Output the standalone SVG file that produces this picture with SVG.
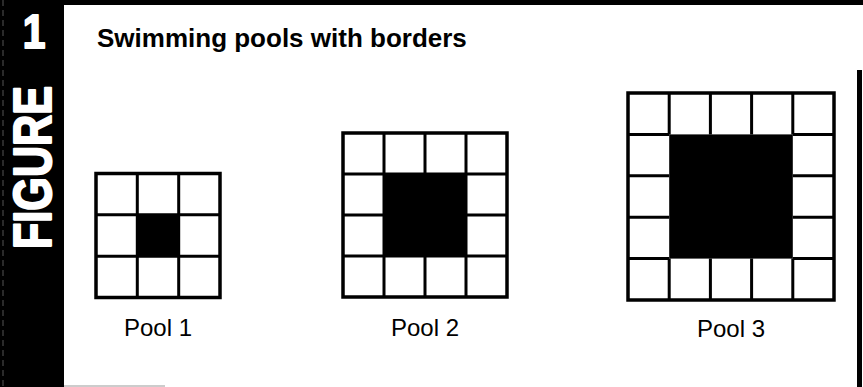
<svg xmlns="http://www.w3.org/2000/svg" width="863" height="387" viewBox="0 0 863 387">
<style>
.grid{fill:none;stroke:#000;stroke-width:3}
.outer{fill:#fff;stroke:#000;stroke-width:3.5}
.pool{fill:#000}
.label{font-family:"Liberation Sans",Arial,sans-serif;font-size:24px;fill:#000;text-anchor:middle}
.title{font-family:"Liberation Sans",Arial,sans-serif;font-size:26px;font-weight:bold;fill:#000}
.side{font-family:"Liberation Sans",Arial,sans-serif;font-weight:bold;fill:#fff;stroke:#fff;stroke-width:2;stroke-linejoin:round}
</style>
<rect width="863" height="387" fill="#fff"/>
<g id="frame">
<rect x="0" y="0" width="64" height="387" fill="#000"/>
<rect x="64" y="0" width="799" height="5" fill="#000"/>
<rect x="857" y="70" width="5" height="317" fill="#000"/>
<line x1="64" y1="386" x2="165" y2="386" stroke="#999" stroke-width="1"/>
<line x1="3" y1="0" x2="3" y2="387" stroke="#555" stroke-width="1" stroke-dasharray="6 4"/>
<text class="side" x="0" y="0" font-size="48" text-anchor="middle" transform="translate(34,48) scale(0.85,1)">1</text>
<text class="side" font-size="53" textLength="163" lengthAdjust="spacingAndGlyphs" transform="translate(51,249) rotate(-90)">FIGURE</text>
</g>
<g id="title">
<text class="title" x="97" y="47">Swimming pools with borders</text>
</g>
<g id="pool1">
<rect class="outer" x="96" y="173.5" width="124" height="124"/>
<rect class="pool" x="137.3" y="214.8" width="41.4" height="41.4"/>
<path class="grid" d="M137.3 173.5V297.5M178.7 173.5V297.5M96 214.8H220M96 256.2H220"/>
<text class="label" x="158" y="336">Pool 1</text>
</g>
<g id="pool2">
<rect class="outer" x="343" y="133" width="164" height="164"/>
<rect class="pool" x="384" y="174" width="82" height="82"/>
<path class="grid" d="M384 133V174M425 133V174M466 133V174M384 256V297M425 256V297M466 256V297M343 174H384M343 215H384M343 256H384M466 174H507M466 215H507M466 256H507M384 174H466M384 256H466M384 174V256M466 174V256"/>
<text class="label" x="425" y="336">Pool 2</text>
</g>
<g id="pool3">
<rect class="outer" x="628" y="93" width="206" height="207"/>
<rect class="pool" x="669.2" y="134.4" width="123.6" height="124.2"/>
<path class="grid" d="M669.2 93V134.4M710.4 93V134.4M751.6 93V134.4M792.8 93V134.4M669.2 258.6V300M710.4 258.6V300M751.6 258.6V300M792.8 258.6V300M628 134.4H669.2M628 175.8H669.2M628 217.2H669.2M628 258.6H669.2M792.8 134.4H834M792.8 175.8H834M792.8 217.2H834M792.8 258.6H834"/>
<text class="label" x="731" y="337">Pool 3</text>
</g>
</svg>
